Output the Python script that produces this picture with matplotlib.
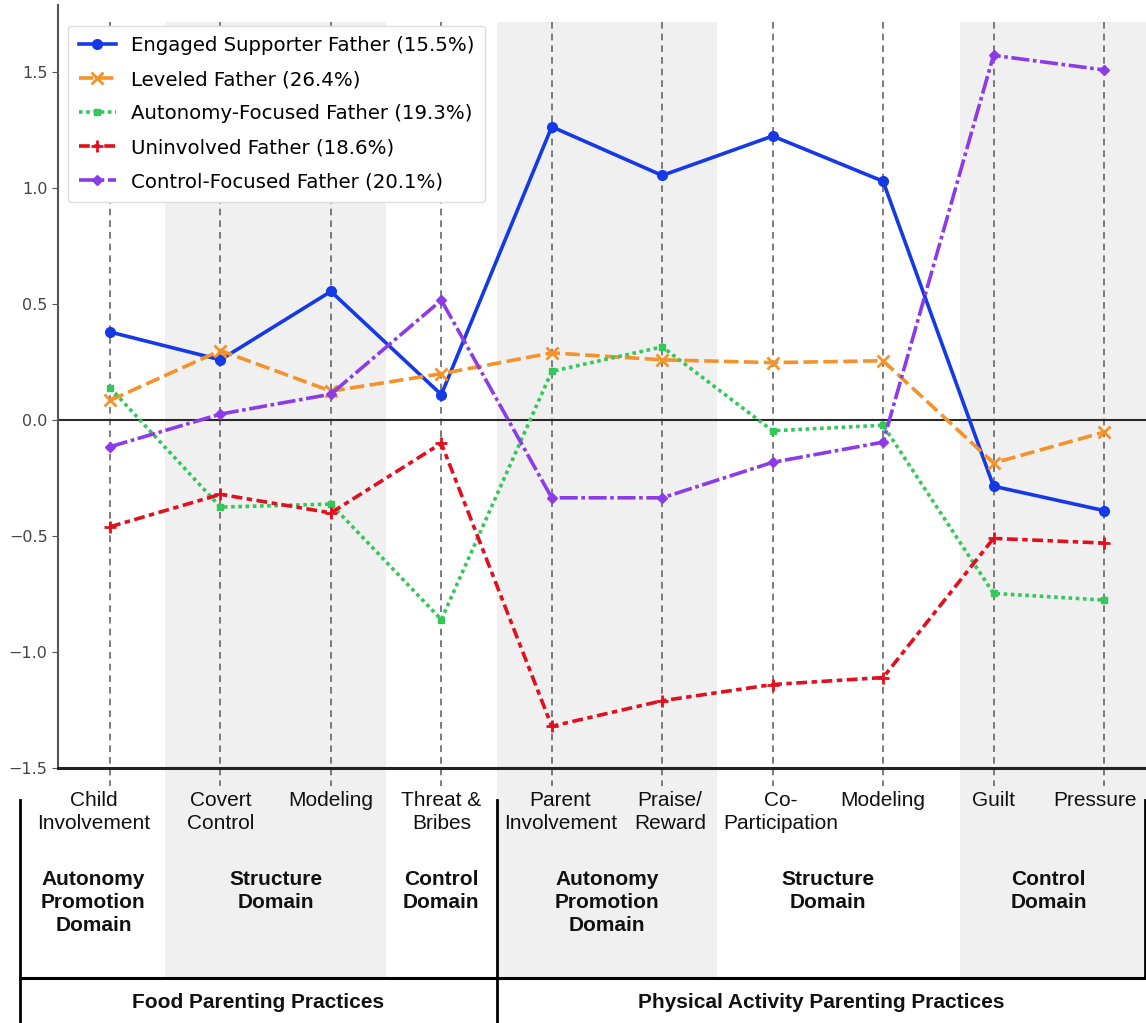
import matplotlib
matplotlib.use("Agg")
import matplotlib.pyplot as plt
from matplotlib import font_manager

# practices along the x axis
practices = ["Child\nInvolvement", "Covert\nControl", "Modeling", "Threat &\nBribes",
             "Parent\nInvolvement", "Praise/\nReward", "Co-\nParticipation", "Modeling",
             "Guilt", "Pressure"]

# domains: (label, first practice index, last practice index)
domains = [("Autonomy\nPromotion\nDomain", 0, 0),
           ("Structure\nDomain", 1, 2),
           ("Control\nDomain", 3, 3),
           ("Autonomy\nPromotion\nDomain", 4, 5),
           ("Structure\nDomain", 6, 7),
           ("Control\nDomain", 8, 9)]

groups = ["Food Parenting Practices", "Physical Activity Parenting Practices"]

labels = ["Engaged Supporter Father (15.5%)", "Leveled Father (26.4%)",
          "Autonomy-Focused Father (19.3%)", "Uninvolved Father (18.6%)",
          "Control-Focused Father (20.1%)"]

engaged = [0.38, 0.26, 0.555, 0.11, 1.265, 1.055, 1.225, 1.03, -0.285, -0.39]
leveled = [0.085, 0.30, 0.125, 0.20, 0.29, 0.26, 0.248, 0.256, -0.185, -0.052]
autonomy = [0.14, -0.375, -0.362, -0.86, 0.21, 0.316, -0.046, -0.022, -0.747, -0.776]
uninvolved = [-0.46, -0.32, -0.40, -0.10, -1.32, -1.21, -1.14, -1.11, -0.51, -0.53]
control = [-0.115, 0.026, 0.112, 0.517, -0.335, -0.335, -0.182, -0.095, 1.573, 1.51]

series = [engaged, leveled, autonomy, uninvolved, control]

colors = ["#1639e6", "#f5922a", "#34c759", "#e0101e", "#8c3ce6"]
dashes = [(None, None), (4, 1.5), (1, 1), (3, 1.25, 1.5, 1.25), (5, 1, 1, 1)]
markers = ["o", "x", "s", "+", "D"]
msizes = [7, 8, 5, 9, 5]

# shaded bands behind the alternate domains (in category units)
band_spans = [(0.5, 2.5), (3.5, 5.5), (7.7, 9.5)]

names = {f.name for f in font_manager.fontManager.ttflist}
tfont = "Liberation Sans" if "Liberation Sans" in names else "DejaVu Sans"
tsize, tls = 15, 1.28

W, H = 1146, 1023
fig = plt.figure(figsize=(W / 100, H / 100), dpi=100)

# pixel <-> data mapping for x (category index)
x0px, dxpx = 110.0, 110.44
def px2x(p):
    return (p - x0px) / dxpx

# background overlay axes, y in pixels from the top
bg = fig.add_axes([0, 0, 1, 1], zorder=0)
bg.set_xlim(px2x(0), px2x(W))
bg.set_ylim(H, 0)
bg.axis("off")

for a, b in band_spans:
    bg.fill_between([a, b], 22, 978, color="#f0f0f0", lw=0, zorder=0)

# dashed guide lines at each practice
for i in range(len(practices)):
    bg.plot([i, i], [22, 786], color="#666666", lw=1.2, ls=(0, (4, 3)), zorder=1)

# table lines
bg.plot([px2x(20), px2x(W)], [978, 978], color="black", lw=2.2, zorder=2)
bg.plot([px2x(20), px2x(20)], [800, H], color="black", lw=2, zorder=2)
bg.plot([3.5, 3.5], [800, H], color="black", lw=2, zorder=2)
bg.plot([px2x(W - 1.5), px2x(W - 1.5)], [800, 978], color="black", lw=2, zorder=2)

# practice labels
nudge = [-0.15, 0, 0, 0, 0.08, 0.07, 0.07, 0, 0, -0.08]
for i, lab in enumerate(practices):
    bg.text(i + nudge[i], 791, lab, ha="center", va="top", fontsize=tsize,
            family=tfont, linespacing=tls, color="#111111", zorder=3)

# domain labels
for name, a, b in domains:
    xc = (a + b) / 2
    if a == 0:
        xc = -0.15
    bg.text(xc, 870, name, ha="center", va="top", fontsize=tsize, fontweight="bold",
            family=tfont, linespacing=tls, color="#111111", zorder=3)

# practice group labels
bg.text((px2x(20) + 3.5) / 2, 1002, groups[0], ha="center", va="center",
        fontsize=tsize, fontweight="bold", family=tfont, color="#111111")
bg.text((3.5 + px2x(W)) / 2, 1002, groups[1], ha="center", va="center",
        fontsize=tsize, fontweight="bold", family=tfont, color="#111111")

# main chart axes
ax = fig.add_axes([58 / W, (H - 768) / H, (W - 58) / W, (768 - 5) / H], zorder=2)
ax.patch.set_alpha(0)
ax.set_xlim(px2x(58), px2x(W))
ax.set_ylim(-1.5, 1.79)

xs = list(range(len(practices)))
for vals, lab, c, d, m, ms in zip(series, labels, colors, dashes, markers, msizes):
    line, = ax.plot(xs, vals, color=c, lw=2.6, marker=m, ms=ms, mew=2 if m in "x+" else 1,
                    label=lab, zorder=3)
    if d[0] is not None:
        line.set_dashes(d)

ax.axhline(0, color="#2a2a2a", lw=1.5, zorder=2)

ax.set_yticks([-1.5, -1.0, -0.5, 0.0, 0.5, 1.0, 1.5])
ax.set_xticks([])
ax.tick_params(axis="y", labelsize=11.5, labelcolor="#444444", color="#555555", length=4)
for s in ["top", "right"]:
    ax.spines[s].set_visible(False)
ax.spines["left"].set_color("#555555")
ax.spines["left"].set_linewidth(1.5)
ax.spines["bottom"].set_color("#222222")
ax.spines["bottom"].set_linewidth(2.2)

leg = ax.legend(loc="upper left", bbox_to_anchor=(0.0, 0.986), fontsize=14.2,
                handlelength=1.9, handletextpad=0.75, labelspacing=0.76,
                borderpad=0.55, framealpha=1.0, edgecolor="#dddddd")

fig.savefig("out.png", dpi=100)
